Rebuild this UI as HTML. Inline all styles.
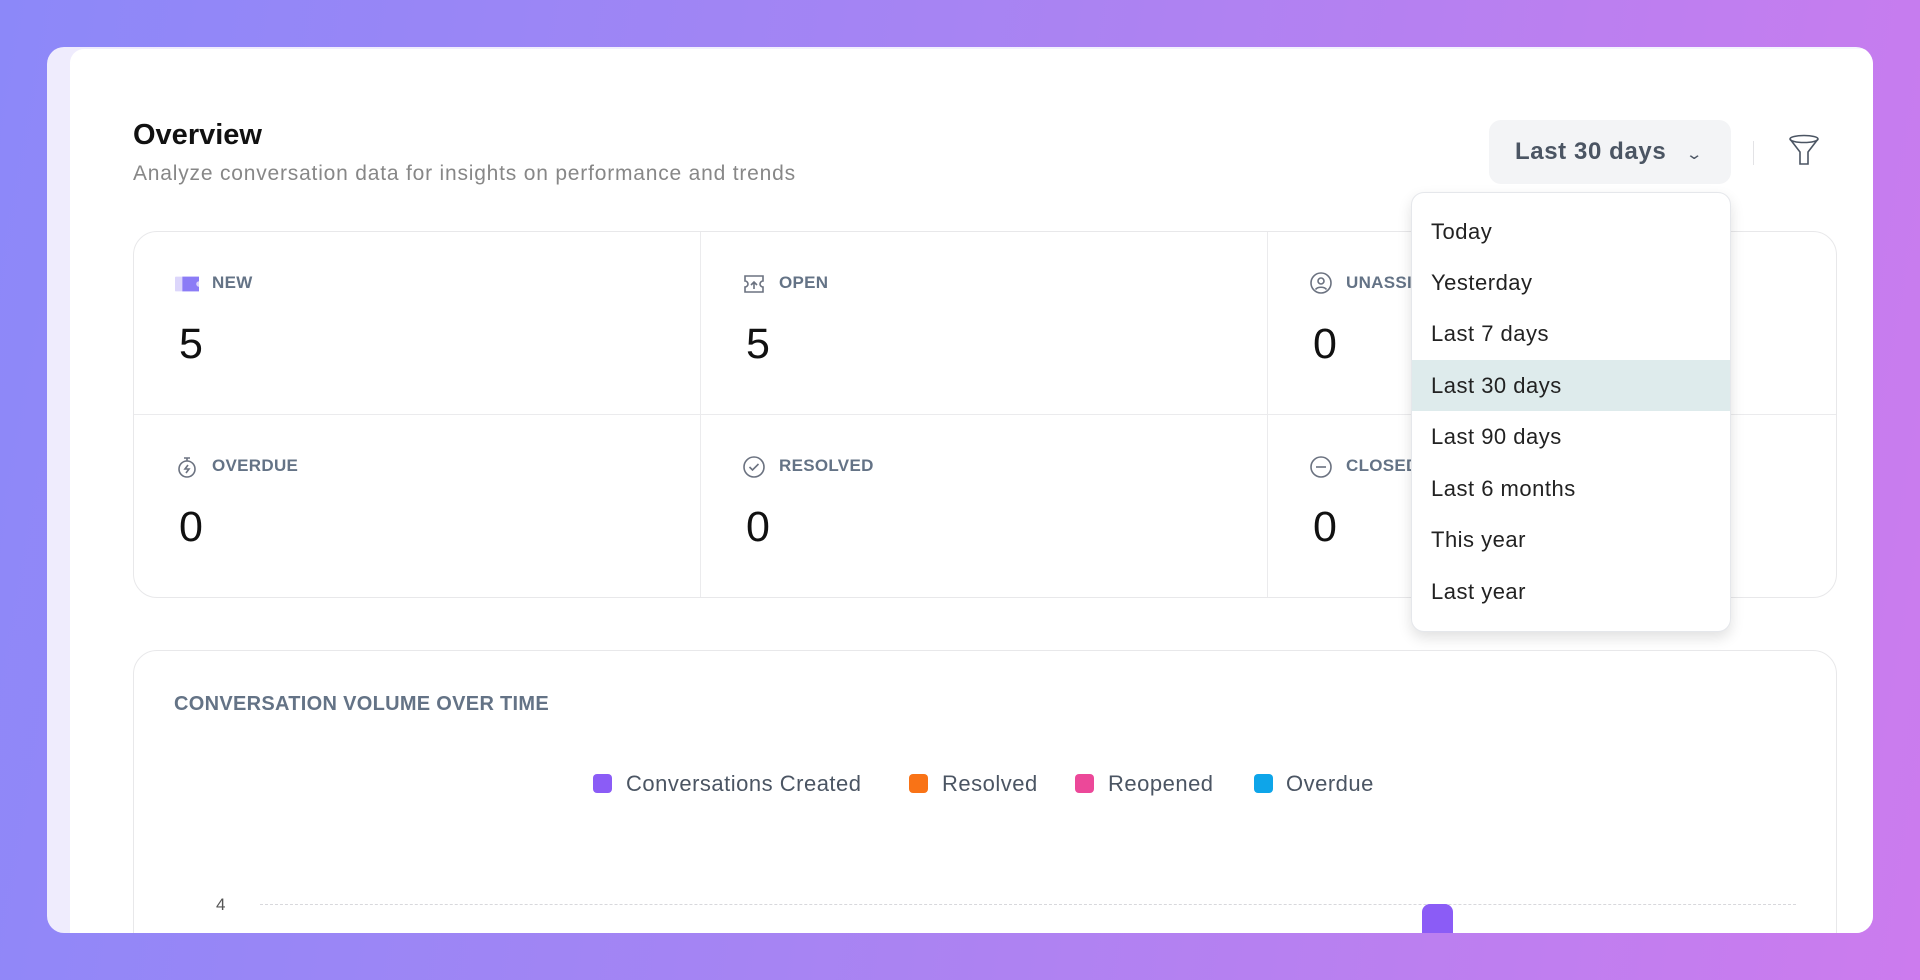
<!DOCTYPE html>
<html><head><meta charset="utf-8"><style>
*{box-sizing:border-box;margin:0;padding:0}
html,body{width:1920px;height:980px;overflow:hidden}
body{background:linear-gradient(100deg,#8c88f9 0%,#a684f3 45%,#cc7bee 100%);font-family:"Liberation Sans",sans-serif;position:relative}
.outer{position:absolute;left:47px;top:47px;width:1826px;height:886px;border-radius:17px;background:linear-gradient(90deg,#efecfd,#f5f6fe);overflow:hidden}
.inner{position:absolute;left:23px;top:2px;right:0;bottom:0;background:#fff;border-top-left-radius:14px;overflow:hidden}
.abs{position:absolute}
.t{color:#111;font-size:29px;font-weight:bold;left:63px;top:70px}
.st{color:#878787;font-size:21px;left:63px;top:113px;letter-spacing:.8px}
.card{position:absolute;border:1.5px solid #e8e8ea;border-radius:24px;background:#fff}
.lbl{position:absolute;font-size:17px;font-weight:bold;color:#647386;letter-spacing:.3px}
.num{position:absolute;font-size:43px;color:#111}
.ico{position:absolute;width:24px;height:24px}
.btn{left:1489px;top:120px;width:242px;height:64px;background:#f3f4f6;border-radius:12px;color:#4b5563;font-size:24px;font-weight:bold;line-height:64px;padding-left:26px;letter-spacing:.6px}
.menu{left:1411px;top:192px;width:320px;height:440px;background:#fff;border:1px solid #e5e7eb;border-radius:13px;box-shadow:0 6px 14px rgba(0,0,0,.12);overflow:hidden}
.it{position:absolute;left:0;width:100%;height:51px;line-height:51px;padding-left:19px;font-size:22px;color:#222;letter-spacing:.5px}
.leg{position:absolute;top:771px;font-size:22px;color:#4b5563;letter-spacing:.5px}
.sq{position:absolute;top:774px;width:19px;height:19px;border-radius:4px}
</style></head><body>
<div class="outer"><div class="inner">
<div class="abs t">Overview</div>
<div class="abs st">Analyze conversation data for insights on performance and trends</div>
<div class="card" style="left:63px;top:182px;width:1704px;height:367px">
 <div class="abs" style="left:0;right:0;top:182px;border-top:1.5px solid #ebebed"></div>
 <div class="abs" style="left:566px;top:0;bottom:0;border-left:1.5px solid #ebebed"></div>
 <div class="abs" style="left:1133px;top:0;bottom:0;border-left:1.5px solid #ebebed"></div>
</div>
</div></div>

<div class="abs" style="left:0;top:0;width:1920px;height:933px;overflow:hidden">
 <svg class="ico" style="left:175px;top:272px" viewBox="0 0 26 20"><rect x="0" y="2" width="26" height="16" rx="1" fill="#dcd6fb"/><path d="M8 2h18v5a3 3 0 0 0 0 6v5H8z" fill="#8b7cf6"/></svg>
 <div class="lbl" style="left:212px;top:273px">NEW</div>
 <div class="num" style="left:179px;top:320px">5</div>
 <svg class="ico" style="left:742px;top:272px" viewBox="0 0 24 24" fill="none" stroke="#6b7280" stroke-width="1.6"><path d="M3 4h18v5a3 3 0 0 0 0 6v5H3v-5a3 3 0 0 0 0-6z"/><path d="M12 17v-7m-3 3l3-3 3 3"/></svg>
 <div class="lbl" style="left:779px;top:273px">OPEN</div>
 <div class="num" style="left:746px;top:320px">5</div>
 <svg class="ico" style="left:1309px;top:271px" viewBox="0 0 24 24" fill="none" stroke="#6b7280" stroke-width="1.6"><circle cx="12" cy="12" r="10"/><circle cx="12" cy="10" r="3"/><path d="M6.5 18.5c2-3 9-3 11 0"/></svg>
 <div class="lbl" style="left:1346px;top:273px">UNASSIGNED</div>
 <div class="num" style="left:1313px;top:320px">0</div>
 <svg class="ico" style="left:175px;top:455px" viewBox="0 0 24 24" fill="none" stroke="#6b7280" stroke-width="1.6"><circle cx="12" cy="14" r="8"/><path d="M9 3h6M12 3v3M13 10l-3 4h4l-3 4"/></svg>
 <div class="lbl" style="left:212px;top:456px">OVERDUE</div>
 <div class="num" style="left:179px;top:503px">0</div>
 <svg class="ico" style="left:742px;top:455px" viewBox="0 0 24 24" fill="none" stroke="#6b7280" stroke-width="1.6"><circle cx="12" cy="12" r="10"/><path d="M7.5 12l3 3 6-6"/></svg>
 <div class="lbl" style="left:779px;top:456px">RESOLVED</div>
 <div class="num" style="left:746px;top:503px">0</div>
 <svg class="ico" style="left:1309px;top:455px" viewBox="0 0 24 24" fill="none" stroke="#6b7280" stroke-width="1.6"><circle cx="12" cy="12" r="10"/><path d="M7 12h10"/></svg>
 <div class="lbl" style="left:1346px;top:456px">CLOSED</div>
 <div class="num" style="left:1313px;top:503px">0</div>

 <div class="card" style="left:133px;top:650px;width:1704px;height:400px"></div>
 <div class="lbl" style="left:174px;top:693px;font-size:20px">CONVERSATION VOLUME OVER TIME</div>
 <div class="sq" style="left:593px;background:#8b5cf6"></div><div class="leg" style="left:626px">Conversations Created</div>
 <div class="sq" style="left:909px;background:#f97316"></div><div class="leg" style="left:942px">Resolved</div>
 <div class="sq" style="left:1075px;background:#ec4899"></div><div class="leg" style="left:1108px">Reopened</div>
 <div class="sq" style="left:1254px;background:#0ea5e9"></div><div class="leg" style="left:1286px">Overdue</div>
 <div class="abs" style="left:216px;top:895px;font-size:17px;color:#555">4</div>
 <div class="abs" style="left:260px;top:904px;width:1536px;border-top:1.5px dashed #d8d8dc"></div>
 <div class="abs" style="left:1422px;top:904px;width:31px;height:60px;background:#8b5cf6;border-radius:8px 8px 0 0"></div>

 <div class="abs btn">Last 30 days <span style="font-size:15px;margin-left:14px;font-weight:normal;display:inline-block;transform:scaleX(1.4)">&#8964;</span></div>
 <div class="abs" style="left:1753px;top:141px;height:24px;border-left:1.5px solid #e3e3e6"></div>
 <svg class="abs" style="left:1788px;top:134px" width="32" height="34" viewBox="0 0 32 34" fill="none" stroke="#4b5563" stroke-width="1.6"><ellipse cx="16" cy="5" rx="14" ry="3.5"/><path d="M2 5l10 13v12l8 0v-12l10-13"/></svg>

 <div class="abs menu">
  <div class="it" style="top:13px">Today</div>
  <div class="it" style="top:64px">Yesterday</div>
  <div class="it" style="top:115px">Last 7 days</div>
  <div class="it" style="top:167px;background:#deebec">Last 30 days</div>
  <div class="it" style="top:218px">Last 90 days</div>
  <div class="it" style="top:270px">Last 6 months</div>
  <div class="it" style="top:321px">This year</div>
  <div class="it" style="top:373px">Last year</div>
 </div>
</div>
</body></html>
